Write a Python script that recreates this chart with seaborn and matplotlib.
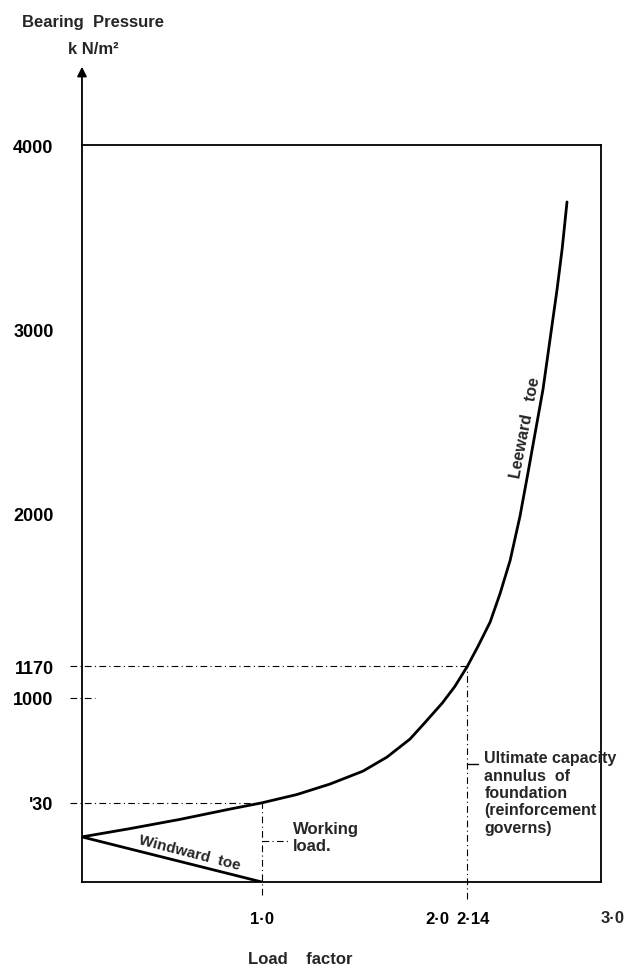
import numpy as np
import pandas as pd
import matplotlib
matplotlib.use("Agg")
import matplotlib.pyplot as plt
import matplotlib.transforms as mtransforms
import seaborn as sns

# Leeward toe curve (load factor vs bearing pressure, kN/m2)
lee_x = [0.0, 0.267, 0.544, 0.822, 1.0, 1.194, 1.378, 1.561, 1.694, 1.822, 1.9, 2.0, 2.07,
         2.14, 2.2, 2.267, 2.322, 2.378, 2.433, 2.478, 2.528, 2.561, 2.60, 2.639, 2.667, 2.694]
lee_y = [245, 290, 340, 396, 430, 475, 532, 602, 678, 776, 860, 970, 1060,
         1170, 1280, 1411, 1565, 1745, 1986, 2225, 2497, 2676, 2947, 3218, 3436, 3691]

# Windward toe line
wind_x = [0.0, 1.0]
wind_y = [245, 0]

# axis ticks
y_ticks = [430, 1000, 1170, 2000, 3000, 4000]
y_labels = ["'30", "1000", "1170", "2000", "3000", "4000"]
x_ticks = [1.0, 2.0, 2.14]
x_labels = ["1·0", "2·0", "2·14"]

working_load = (1.0, 430)
ultimate = (2.14, 1170)

sns.set_theme(style="white")
plt.rcParams["font.family"] = ["Liberation Sans", "DejaVu Sans"]

lee = pd.DataFrame({"load": lee_x, "pressure": lee_y})
wind = pd.DataFrame({"load": wind_x, "pressure": wind_y})

fig = plt.figure(figsize=(6.33, 9.78), dpi=100)
ax = fig.add_axes([0.1295, 0.0971, 0.82, 0.7536])

sns.lineplot(data=lee, x="load", y="pressure", color="black", lw=2.0, ax=ax, sort=False)
sns.lineplot(data=wind, x="load", y="pressure", color="black", lw=2.0, ax=ax, sort=False)
for ln in ax.lines:
    ln.set_solid_joinstyle("round")
    ln.set_solid_capstyle("round")

ax.set_xlim(0, 2.883)
ax.set_ylim(0, 4000)

# dashed guides
dash = dict(color="black", lw=0.8, linestyle=(0, (6, 3, 1, 3)), clip_on=False)
ax.plot([-0.067, working_load[0]], [working_load[1]] * 2, **dash)
ax.plot([working_load[0]] * 2, [-70, working_load[1]], **dash)
ax.plot([-0.067, ultimate[0]], [ultimate[1]] * 2, **dash)
ax.plot([ultimate[0]] * 2, [-90, ultimate[1]], **dash)
ax.plot([-0.067, 0.072], [1000, 1000], **dash)

# leaders
ax.plot([1.0, 1.15], [222, 222], **dash)
ax.plot([2.14, 2.20], [640, 640], color="black", lw=1.0, clip_on=False)

ax.set_yticks(y_ticks)
ax.set_yticklabels(y_labels)
ax.set_xticks(x_ticks)
ax.set_xticklabels(x_labels)
ax.tick_params(axis="y", direction="inout", length=26, width=1.0, pad=7.5, labelsize=13, colors="black")
ax.tick_params(axis="x", direction="inout", length=20, width=0.8, pad=11, labelsize=12, colors="black")
ax.set_xlabel("")
ax.set_ylabel("")
for lab in ax.get_xticklabels() + ax.get_yticklabels():
    lab.set_fontweight("bold")

# nudge the crowded 2·0 / 2·14 labels apart as in the original
shifts = {"2·0": -5, "2·14": 6}
for lab in ax.get_xticklabels():
    dx = shifts.get(lab.get_text(), 0)
    if dx:
        lab.set_transform(lab.get_transform() +
                          mtransforms.ScaledTranslation(dx / 100, 0, fig.dpi_scale_trans))

for s in ax.spines.values():
    s.set_color("black")
    s.set_linewidth(1.3)

# "3·0" sits beyond the frame
ax.text(2.95, -190, "3·0", ha="center", va="center", fontsize=12, fontweight="bold", clip_on=False)

# y axis arrow
ax.annotate("", xy=(0, 4440), xytext=(0, 3980),
            arrowprops=dict(arrowstyle="-|>", lw=1.3, color="black", mutation_scale=14),
            annotation_clip=False)

ax.text(0.60, 160, "Windward  toe", rotation=-14.5, ha="center", va="center",
        fontsize=11, fontweight="bold", rotation_mode="anchor")
ax.text(2.465, 2470, "Leeward   toe", rotation=79, ha="center", va="center",
        fontsize=11.5, fontweight="bold", rotation_mode="anchor")
ax.text(1.172, 244, "Working\nload.", ha="left", va="center", fontsize=12,
        fontweight="bold", linespacing=1.1)
ax.text(2.235, 715, "Ultimate capacity\nannulus  of\nfoundation\n(reinforcement\ngoverns)",
        ha="left", va="top", fontsize=11.5, fontweight="bold", linespacing=1.2, clip_on=False)

fig.text(22 / 633, 1 - 22 / 978, "Bearing  Pressure", ha="left", va="center",
         fontsize=12, fontweight="bold")
fig.text(93 / 633, 1 - 50 / 978, "k N/m²", ha="center", va="center",
         fontsize=12, fontweight="bold")
fig.text(300 / 633, 1 - 960 / 978, "Load    factor", ha="center", va="center",
         fontsize=12, fontweight="bold")

fig.savefig("out.png", dpi=100)
